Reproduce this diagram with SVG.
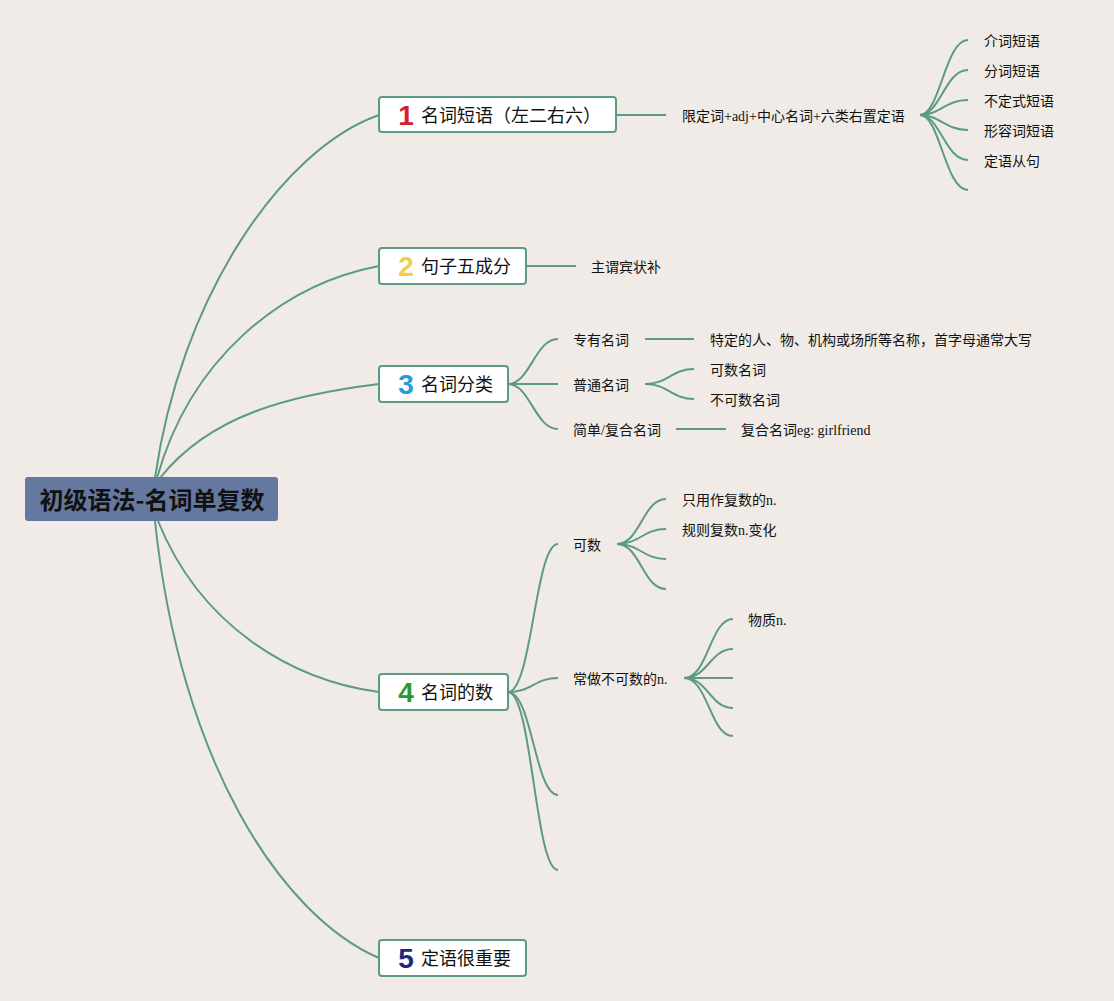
<svg xmlns="http://www.w3.org/2000/svg" width="1114" height="1001" viewBox="0 0 1114 1001">
<style>
.bg{fill:#f0ebe6}
.c{fill:none;stroke:#5d9a86;stroke-width:2}
.box{fill:#ffffff;stroke:#5d9a86;stroke-width:2}
.num{font-family:"Liberation Sans","Noto Sans",sans-serif;font-weight:bold;font-size:28px;text-anchor:middle}
.nt{font-family:"Noto Sans CJK SC",sans-serif;font-size:18px;fill:#111}
.lt{font-family:"Liberation Serif","Noto Sans CJK SC",serif;font-size:14px;fill:#111}
.root{font-family:"Noto Sans CJK SC",sans-serif;font-weight:bold;font-size:24px;fill:#111;text-anchor:middle}
</style>
<rect class="bg" x="0" y="0" width="1114" height="1001"/>
<g id="connectors">
<path class="c" d="M155,478 C180,300 280,150 379,115"/>
<path class="c" d="M157,478 C190,360 280,285 379,266"/>
<path class="c" d="M160,478 C210,415 290,395 379,384"/>
<path class="c" d="M158,521 C200,625 290,680 379,692"/>
<path class="c" d="M155,521 C180,760 280,915 379,958"/>
<path class="c" d="M616,115 L666,115"/>
<path class="c" d="M920,115 C940,115 945,40 968,40"/>
<path class="c" d="M920,115 C940,115 945,70 968,70"/>
<path class="c" d="M920,115 C940,115 945,100 968,100"/>
<path class="c" d="M920,115 C940,115 945,130 968,130"/>
<path class="c" d="M920,115 C940,115 945,160 968,160"/>
<path class="c" d="M920,115 C940,115 945,190 968,190"/>
<path class="c" d="M526,266 L576,266"/>
<path class="c" d="M508,384 C530,384 535,339 558,339"/>
<path class="c" d="M508,384 L558,384"/>
<path class="c" d="M508,384 C530,384 535,429 558,429"/>
<path class="c" d="M645,339 L694,339"/>
<path class="c" d="M645,384 C668,384 672,369 694,369"/>
<path class="c" d="M645,384 C668,384 672,399 694,399"/>
<path class="c" d="M676,429 L726,429"/>
<path class="c" d="M508,692 C532,692 535,544 558,544"/>
<path class="c" d="M508,692 C532,692 535,678 558,678"/>
<path class="c" d="M508,692 C532,692 535,795 558,795"/>
<path class="c" d="M508,692 C532,692 535,870 558,870"/>
<path class="c" d="M617,544 C640,544 643,499 666,499"/>
<path class="c" d="M617,544 C640,544 643,529 666,529"/>
<path class="c" d="M617,544 C640,544 643,559 666,559"/>
<path class="c" d="M617,544 C640,544 643,589 666,589"/>
<path class="c" d="M684,678 C708,678 710,619 733,619"/>
<path class="c" d="M684,678 C708,678 710,649 733,649"/>
<path class="c" d="M684,678 L733,678"/>
<path class="c" d="M684,678 C708,678 710,708 733,708"/>
<path class="c" d="M684,678 C708,678 710,736 733,736"/>
</g>
<g id="root">
<rect x="25" y="477" width="253" height="44" rx="3" fill="#6578a0"/>
<text class="root" x="152" y="509">初级语法-名词单复数</text>
</g>
<g id="n1">
<rect class="box" x="379" y="97" width="237" height="35" rx="3"/>
<text class="num" x="406" y="125" fill="#d21f2f">1</text>
<text class="nt" x="421" y="122">名词短语（左二右六）</text>
</g>
<g id="n2">
<rect class="box" x="379" y="248" width="147" height="36" rx="3"/>
<text class="num" x="406" y="276" fill="#f0d048">2</text>
<text class="nt" x="421" y="273">句子五成分</text>
</g>
<g id="n3">
<rect class="box" x="379" y="366" width="129" height="36" rx="3"/>
<text class="num" x="406" y="394" fill="#2a9ad8">3</text>
<text class="nt" x="421" y="391">名词分类</text>
</g>
<g id="n4">
<rect class="box" x="379" y="674" width="129" height="36" rx="3"/>
<text class="num" x="406" y="702" fill="#2a982e">4</text>
<text class="nt" x="421" y="699">名词的数</text>
</g>
<g id="n5">
<rect class="box" x="379" y="940" width="147" height="36" rx="3"/>
<text class="num" x="406" y="968" fill="#1f2a7c">5</text>
<text class="nt" x="421" y="965">定语很重要</text>
</g>
<g id="n1-1"><text class="lt" x="682" y="121">限定词+adj+中心名词+六类右置定语</text></g>
<g id="n1-1-1"><text class="lt" x="984" y="46">介词短语</text></g>
<g id="n1-1-2"><text class="lt" x="984" y="76">分词短语</text></g>
<g id="n1-1-3"><text class="lt" x="984" y="106">不定式短语</text></g>
<g id="n1-1-4"><text class="lt" x="984" y="136">形容词短语</text></g>
<g id="n1-1-5"><text class="lt" x="984" y="166">定语从句</text></g>
<g id="n2-1"><text class="lt" x="591" y="272">主谓宾状补</text></g>
<g id="n3-1"><text class="lt" x="573" y="345">专有名词</text></g>
<g id="n3-1-1"><text class="lt" x="710" y="345">特定的人、物、机构或场所等名称，首字母通常大写</text></g>
<g id="n3-2"><text class="lt" x="573" y="390">普通名词</text></g>
<g id="n3-2-1"><text class="lt" x="710" y="375">可数名词</text></g>
<g id="n3-2-2"><text class="lt" x="710" y="405">不可数名词</text></g>
<g id="n3-3"><text class="lt" x="573" y="435">简单/复合名词</text></g>
<g id="n3-3-1"><text class="lt" x="741" y="435">复合名词eg: girlfriend</text></g>
<g id="n4-1"><text class="lt" x="573" y="550">可数</text></g>
<g id="n4-1-1"><text class="lt" x="682" y="505">只用作复数的n.</text></g>
<g id="n4-1-2"><text class="lt" x="682" y="535">规则复数n.变化</text></g>
<g id="n4-2"><text class="lt" x="573" y="684">常做不可数的n.</text></g>
<g id="n4-2-1"><text class="lt" x="748" y="625">物质n.</text></g>
</svg>
